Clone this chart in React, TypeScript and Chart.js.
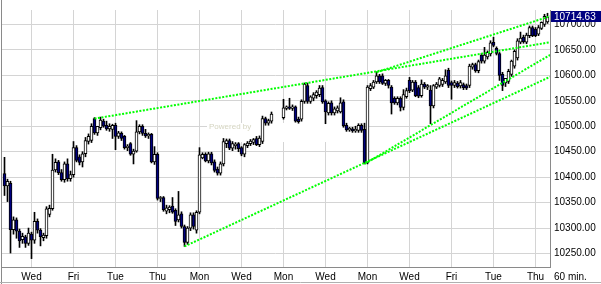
import React, { useEffect, useRef } from "react";
import { Chart, registerables } from "chart.js";

Chart.register(...registerables);

// ---- Data (hourly OHLC bars; null = no trading) ----
const opens: (number | null)[] = [
  10407, 10383, 10388, 10297, 10316, 10294, 10277, 10283, 10270, 10288,
  10276, 10313, 10296, 10281, 10285, 10327, 10338, 10414, 10430, 10409,
  10395, 10426, 10397, 10405, 10458, 10440, 10430, 10446, 10470, 10472,
  10515, 10487, 10497, 10510, 10502, 10495, 10494, 10502, 10480, 10486,
  10480, 10458, 10466, 10445, 10451, 10489, 10500, 10486, 10481, 10484,
  10430, 10445, 10358, 10360, 10333, 10336, 10343, 10335, 10316, 10328,
  10303, 10272, 10300, 10326, 10296, 10331, 10438, 10445, 10432, 10446,
  10430, 10416, 10408, 10426, 10466, 10472, 10457, 10462, 10466, 10458,
  10445, 10462, 10466, 10468, 10476, 10464, 10470, 10515, 10506, 10510,
  null, null, null, 10517, 10535, 10538, 10535, 10538, 10514, 10514,
  10549, 10580, 10549, 10555, 10560, 10562, 10576, 10550, 10526, 10546,
  10526, 10530, 10528, 10548, 10502, 10493, 10495, 10491, 10492, 10502,
  10494, 10428, 10574, 10577, 10587, 10599, 10599, 10584, 10590, 10577,
  10555, 10546, 10555, 10537, 10558, 10590, 10571, 10587, 10576, 10560,
  10583, 10577, 10571, 10540, 10577, 10580, 10582, 10587, 10610, 10586,
  10580, 10585, 10579, 10582, 10580, 10580, 10616, 10621, 10609, 10640,
  10628, 10636, 10642, 10665, 10653, 10643, 10602, 10585, 10588, 10602,
  10618, 10634, 10665, 10675, 10665, 10678, 10694, 10691, 10681, 10692,
  10700, 10705,
];
const highs: (number | null)[] = [
  10439, 10396, 10392, 10322, 10320, 10298, 10290, 10286, 10300, 10292,
  10331, 10318, 10299, 10290, 10342, 10345, 10445, 10436, 10433, 10415,
  10430, 10436, 10412, 10470, 10462, 10444, 10450, 10478, 10485, 10505,
  10517, 10500, 10518, 10514, 10510, 10505, 10504, 10506, 10490, 10489,
  10482, 10464, 10468, 10455, 10511, 10503, 10503, 10494, 10487, 10486,
  10460, 10448, 10362, 10362, 10345, 10344, 10360, 10338, 10372, 10332,
  10306, 10303, 10330, 10330, 10334, 10458, 10448, 10448, 10449, 10449,
  10434, 10420, 10430, 10476, 10475, 10475, 10470, 10468, 10468, 10460,
  10466, 10470, 10474, 10476, 10480, 10481, 10520, 10518, 10514, 10528,
  null, null, null, 10553, 10540, 10555, 10542, 10540, 10518, 10552,
  10585, 10585, 10560, 10566, 10570, 10580, 10580, 10552, 10548, 10550,
  10538, 10540, 10556, 10552, 10506, 10498, 10498, 10500, 10505, 10505,
  10506, 10580, 10584, 10590, 10607, 10602, 10603, 10592, 10592, 10580,
  10558, 10558, 10558, 10572, 10575, 10596, 10590, 10590, 10580, 10591,
  10586, 10582, 10580, 10582, 10586, 10596, 10594, 10611, 10614, 10589,
  10590, 10588, 10590, 10585, 10583, 10622, 10624, 10624, 10630, 10643,
  10655, 10648, 10668, 10675, 10656, 10645, 10606, 10594, 10612, 10630,
  10650, 10672, 10685, 10679, 10683, 10697, 10697, 10694, 10698, 10705,
  10720, 10722,
];
const lows: (number | null)[] = [
  10364, 10352, 10251, 10288, 10280, 10262, 10270, 10262, 10266, 10240,
  10270, 10290, 10265, 10275, 10280, 10322, 10335, 10410, 10405, 10392,
  10390, 10392, 10392, 10400, 10430, 10424, 10420, 10440, 10465, 10468,
  10484, 10482, 10493, 10498, 10492, 10490, 10476, 10454, 10476, 10472,
  10455, 10452, 10443, 10426, 10449, 10485, 10482, 10478, 10476, 10428,
  10425, 10355, 10352, 10333, 10328, 10330, 10329, 10305, 10312, 10300,
  10264, 10268, 10295, 10298, 10290, 10328, 10436, 10430, 10428, 10424,
  10410, 10404, 10404, 10422, 10458, 10454, 10452, 10455, 10450, 10442,
  10440, 10458, 10462, 10464, 10462, 10460, 10466, 10502, 10502, 10506,
  null, null, null, 10514, 10532, 10533, 10531, 10508, 10506, 10510,
  10545, 10545, 10545, 10550, 10555, 10558, 10545, 10505, 10522, 10522,
  10522, 10526, 10526, 10498, 10490, 10490, 10488, 10488, 10488, 10488,
  10426, 10426, 10570, 10574, 10584, 10584, 10582, 10580, 10575, 10524,
  10543, 10542, 10530, 10532, 10555, 10566, 10568, 10558, 10556, 10557,
  10574, 10572, 10505, 10536, 10574, 10577, 10578, 10584, 10576, 10553,
  10576, 10575, 10575, 10572, 10572, 10576, 10612, 10606, 10605, 10624,
  10624, 10632, 10638, 10656, 10640, 10590, 10570, 10578, 10584, 10598,
  10614, 10630, 10662, 10663, 10662, 10674, 10676, 10676, 10678, 10690,
  10696, 10702,
];
const closes: (number | null)[] = [
  10383, 10392, 10297, 10316, 10294, 10275, 10284, 10270, 10290, 10276,
  10313, 10296, 10283, 10286, 10338, 10339, 10414, 10429, 10409, 10395,
  10426, 10397, 10405, 10458, 10433, 10429, 10446, 10472, 10480, 10500,
  10487, 10500, 10512, 10500, 10495, 10500, 10502, 10480, 10487, 10476,
  10458, 10461, 10445, 10451, 10489, 10500, 10486, 10481, 10484, 10430,
  10445, 10358, 10360, 10336, 10340, 10341, 10331, 10313, 10326, 10303,
  10272, 10300, 10326, 10303, 10331, 10444, 10445, 10432, 10446, 10428,
  10413, 10408, 10426, 10470, 10472, 10457, 10466, 10465, 10456, 10445,
  10464, 10467, 10471, 10474, 10464, 10477, 10515, 10506, 10511, 10524,
  null, null, null, 10536, 10538, 10535, 10538, 10510, 10509, 10549,
  10583, 10549, 10558, 10562, 10567, 10575, 10548, 10528, 10545, 10526,
  10534, 10536, 10546, 10501, 10493, 10496, 10491, 10494, 10502, 10492,
  10428, 10577, 10580, 10587, 10599, 10587, 10584, 10590, 10580, 10546,
  10546, 10555, 10537, 10562, 10570, 10570, 10587, 10560, 10559, 10583,
  10577, 10580, 10540, 10580, 10583, 10593, 10590, 10599, 10580, 10580,
  10586, 10578, 10586, 10576, 10575, 10618, 10621, 10609, 10627, 10628,
  10640, 10645, 10664, 10659, 10643, 10600, 10580, 10594, 10608, 10628,
  10647, 10668, 10673, 10666, 10679, 10694, 10678, 10678, 10694, 10704,
  10716, 10714.63,
];

// Day labels on the time axis (bar index where each labelled day starts)
const dayTickIndex = [9, 23, 37, 51, 65, 79, 93, 107, 121, 135, 149, 163, 177];
const dayTickLabels = ["Wed", "Fri", "Tue", "Thu", "Mon", "Wed", "Mon", "Wed", "Mon", "Wed", "Fri", "Tue", "Thu"];

// Price axis ticks
const priceTicks = [
  10250, 10275, 10300, 10325, 10350, 10375, 10400, 10425, 10450, 10475,
  10500, 10525, 10550, 10575, 10600, 10625, 10650, 10675, 10700,
];
const lastPrice = 10714.63;
const intervalLabel = "60 min.";
const watermarkText = "Powered by";

// Trend lines: start bar index / value, value at the right edge
const trendFromIndex = [30, 124, 60, 120];
const trendFromValue = [10515, 10606, 10264, 10426];
const trendToValue = [10665, 10716, 10597, 10640];

// ---- Layout constants ----
const W = 601;
const H = 284;
const X_MIN = -7 / 6;
const X_MAX = 545.5 / 3;
const PX_PER_POINT = 238 / 450;
const Y_MAX = 10700 + 15 / PX_PER_POINT;
const Y_MIN = Y_MAX - 267 / PX_PER_POINT;
const FONT = { family: "'Liberation Sans', Arial, sans-serif", size: 10 };
const GRID = "#d4d4d4";
const AXIS = "#8a8a8a";
const NAVY = "#000080";

const decorPlugin = {
  id: "decor",
  beforeDraw(chart: any) {
    const c = chart.ctx;
    c.save();
    c.fillStyle = "#ffffff";
    c.fillRect(0, 0, chart.width, chart.height);
    c.restore();
  },
  beforeDatasetsDraw(chart: any) {
    const c = chart.ctx;
    c.save();
    c.fillStyle = "#ffffff";
    c.fillRect(207, 123, 135, 19);
    c.fillStyle = "#d4d4c0";
    c.font = "8px 'Liberation Sans', Arial, sans-serif";
    c.textBaseline = "top";
    c.textAlign = "left";
    c.fillText(watermarkText, 209, 123);
    c.restore();
  },
  afterDraw(chart: any) {
    const c = chart.ctx;
    const area = chart.chartArea;
    const ys = chart.scales.y;
    c.save();
    c.strokeStyle = AXIS;
    c.lineWidth = 1;
    c.beginPath();
    c.moveTo(1.5, 0);
    c.lineTo(1.5, H);
    c.stroke();
    c.strokeStyle = "#b0b0b0";
    c.beginPath();
    c.moveTo(0, 282.5);
    c.lineTo(W, 282.5);
    c.stroke();

    const py = ys.getPixelForValue(lastPrice);
    c.fillStyle = NAVY;
    c.fillRect(area.right + 1, Math.round(py - 5.5), W - area.right - 1, 11);
    c.fillStyle = "#ffffff";
    c.font = "10px 'Liberation Sans', Arial, sans-serif";
    c.textBaseline = "middle";
    c.textAlign = "left";
    c.fillText(lastPrice.toFixed(2), area.right + 4, py);

    c.fillStyle = "#000000";
    c.fillText(intervalLabel, area.right + 4, 277);
    c.restore();
  },
};

export default function App() {
  const ref = useRef<HTMLCanvasElement | null>(null);

  useEffect(() => {
    if (!ref.current) return;
    const bodies: any[] = [];
    const bodyColors: string[] = [];
    const wicks: any[] = [];
    for (let i = 0; i < opens.length; i++) {
      const o = opens[i], h = highs[i], l = lows[i], cl = closes[i];
      if (o == null || h == null || l == null || cl == null) continue;
      bodies.push({ x: i, y: [o, cl] });
      bodyColors.push(cl >= o ? "#ffffff" : NAVY);
      wicks.push({ x: i, y: [l, h] });
    }
    const trendSets = trendFromIndex.map((fi, k) => ({
      type: "line" as const,
      data: [
        { x: fi, y: trendFromValue[k] },
        { x: X_MAX, y: trendToValue[k] },
      ],
      borderColor: "#00ff00",
      borderWidth: 2,
      borderDash: [2, 1.5],
      pointRadius: 0,
      fill: false,
      tension: 0,
      order: 0,
    }));

    const chart = new Chart(ref.current, {
      type: "bar",
      data: {
        datasets: [
          {
            type: "bar",
            data: wicks,
            backgroundColor: "#000000",
            borderWidth: 0,
            barThickness: 1,
            grouped: false,
            order: 2,
          } as any,
          {
            type: "bar",
            data: bodies,
            backgroundColor: bodyColors,
            borderColor: "#000000",
            borderWidth: 1,
            borderSkipped: false,
            barThickness: 3,
            grouped: false,
            order: 1,
          } as any,
          ...trendSets,
        ],
      },
      options: {
        animation: false,
        responsive: false,
        maintainAspectRatio: false,
        devicePixelRatio: 1,
        events: [],
        layout: { autoPadding: false, padding: { left: 1, right: 0, top: 0, bottom: 0 } },
        plugins: { legend: { display: false }, tooltip: { enabled: false } },
        scales: {
          x: {
            type: "linear",
            min: X_MIN,
            max: X_MAX,
            offset: false,
            afterBuildTicks: (s: any) => {
              s.ticks = dayTickIndex.map((v) => ({ value: v }));
            },
            afterFit: (s: any) => {
              s.height = 17;
            },
            ticks: {
              autoSkip: false,
              maxRotation: 0,
              minRotation: 0,
              padding: 4,
              color: "#000000",
              font: FONT,
              callback: (v: any) => {
                const k = dayTickIndex.indexOf(Number(v));
                return k >= 0 ? dayTickLabels[k] : "";
              },
            },
            grid: { color: GRID, drawTicks: false, offset: false, lineWidth: 1 },
            border: { display: true, color: AXIS },
          },
          y: {
            type: "linear",
            position: "right",
            min: Y_MIN,
            max: Y_MAX,
            afterBuildTicks: (s: any) => {
              s.ticks = priceTicks.map((v) => ({ value: v }));
            },
            afterFit: (s: any) => {
              s.width = 51;
            },
            ticks: {
              padding: 4,
              color: "#000000",
              font: FONT,
              callback: (v: any) => Number(v).toFixed(2),
            },
            grid: { color: GRID, drawTicks: false, lineWidth: 1 },
            border: { display: true, color: AXIS },
          },
        },
      } as any,
      plugins: [decorPlugin],
    });
    return () => chart.destroy();
  }, []);

  return (
    <div style={{ position: "absolute", left: 0, top: 0, width: W, height: H, background: "#fff" }}>
      <canvas ref={ref} width={W} height={H} style={{ display: "block", width: W, height: H }} />
    </div>
  );
}
